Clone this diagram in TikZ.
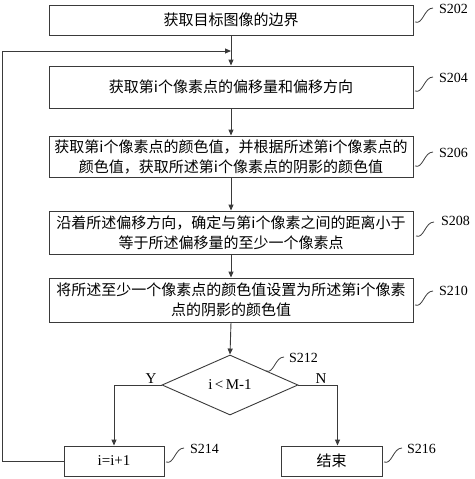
\documentclass[tikz,border=0pt]{standalone}
\usepackage{fontspec}
\setmainfont{Liberation Serif}
\newfontfamily\cjk{Noto Sans CJK SC}
\usetikzlibrary{arrows.meta,shapes.geometric}
\definecolor{lc}{HTML}{3A3A3A}
\tikzset{
  box/.style={draw=lc, line width=0.9pt, minimum width=364pt, inner sep=0pt, align=center, font=\cjk\fontsize{15}{20}\selectfont},
  arr/.style={draw=lc, line width=0.9pt, -{Triangle[length=6pt,width=5pt]}},
  lbl/.style={font=\fontsize{14}{16}\selectfont, anchor=west, inner sep=0pt},
  sq/.style={draw=lc, line width=0.8pt},
}
\newcommand\squig[1]{\draw[sq] #1 .. controls +(8,3) and +(-9,0) .. +(18,-14);}
\begin{document}
\begin{tikzpicture}[x=1pt,y=-1pt]
\useasboundingbox (0,0) rectangle (474,479);
\node[box, minimum height=30pt] (b1) at (231,20) {获取目标图像的边界};
\node[box, minimum height=42pt] (b2) at (231,87) {获取第i个像素点的偏移量和偏移方向};
\node[box, minimum height=41pt] (b3) at (231,156.5) {获取第i个像素点的颜色值，并根据所述第i个像素点的\\颜色值，获取所述第i个像素点的阴影的颜色值};
\node[box, minimum height=43pt] (b4) at (231,232.5) {沿着所述偏移方向，确定与第i个像素之间的距离小于\\等于所述偏移量的至少一个像素点};
\node[box, minimum height=44pt] (b5) at (231,300) {将所述至少一个像素点的颜色值设置为所述第i个像素\\点的阴影的颜色值};
\node[diamond, draw=lc, line width=0.9pt, minimum width=136pt, minimum height=60pt, inner sep=0pt, font=\fontsize{15}{18}\selectfont] (d) at (230,385) {i\,<\,M-1};
\node[box, minimum width=100pt, minimum height=30pt, font=\fontsize{15}{18}\selectfont] (b6) at (114,461) {i=i+1};
\node[box, minimum width=101pt, minimum height=30pt] (b7) at (331.5,461) {结束};
\coordinate (j) at (231,51);
\draw[arr] (b1) -- (b2);
\draw[arr] (b2) -- (b3);
\draw[arr] (b3) -- (b4);
\draw[arr] (b4) -- (b5);
\draw[arr] (b5.south) -- (d.north);
\draw[arr] (d.west) -| (b6.north);
\draw[arr] (d.east) -| ([xshift=6pt]b7.north);
\draw[arr] (b6.west) -- ++(-61,0) |- (j);
\node[font=\fontsize{15}{18}\selectfont] (y) at (151,379) {Y};
\node[font=\fontsize{15}{18}\selectfont] (n) at (321,379) {N};
\node[lbl] (l1) at (439,9) {S202};
\node[lbl] (l2) at (439,78) {S204};
\node[lbl] (l3) at (439,153) {S206};
\node[lbl] (l4) at (441,221) {S208};
\node[lbl] (l5) at (439,291) {S210};
\node[lbl] (l6) at (289,358) {S212};
\node[lbl] (l7) at (190,449) {S214};
\node[lbl] (l8) at (407,449) {S216};
\squig{(415,22)}
\squig{(415,91)}
\squig{(415,166)}
\squig{(416,236)}
\squig{(415,305)}
\squig{(266,371)}
\squig{(166,462)}
\squig{(384,462)}
\end{tikzpicture}
\end{document}
